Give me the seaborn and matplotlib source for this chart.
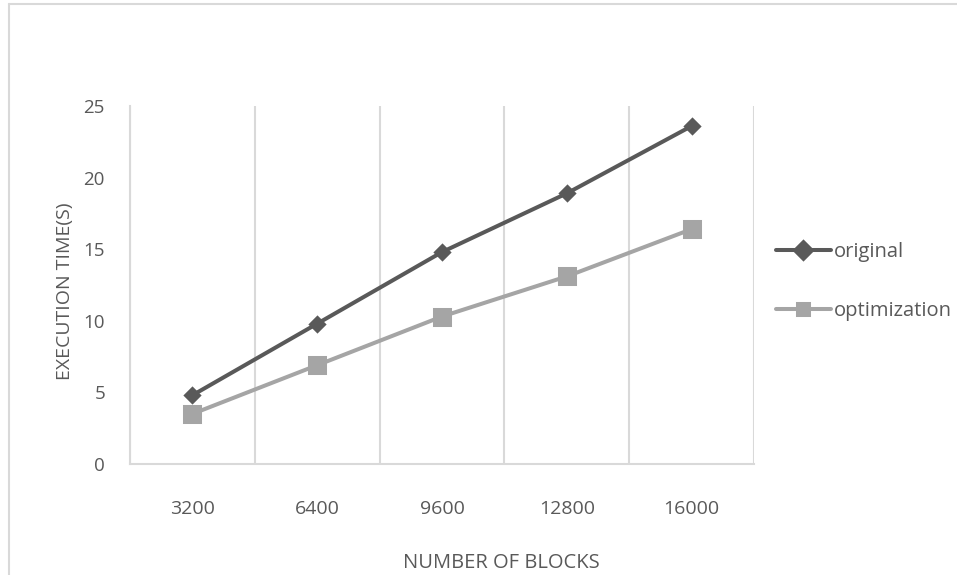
import matplotlib
matplotlib.use("Agg")
import matplotlib.pyplot as plt
from matplotlib.lines import Line2D
import numpy as np
import pandas as pd
import seaborn as sns

# Execution time (seconds) per number of blocks
blocks = ["3200", "6400", "9600", "12800", "16000"]
original = [4.8, 9.8, 14.8, 18.9, 23.6]
optimization = [3.5, 6.9, 10.3, 13.1, 16.4]
series_names = ["original", "optimization"]
y_ticks = [0, 5, 10, 15, 20, 25]

df = pd.DataFrame({
    "blocks": blocks * 2,
    "time": original + optimization,
    "series": [series_names[0]] * len(blocks) + [series_names[1]] * len(blocks),
})

sns.set_theme(style="white")
plt.rcParams["font.family"] = ["Open Sans", "DejaVu Sans"]

text_color = "#595959"
grid_color = "#d9d9d9"
palette = {"original": "#595959", "optimization": "#a5a5a5"}

W, H = 957, 575
fig = plt.figure(figsize=(W / 100, H / 100), dpi=100)
ax = fig.add_axes([130 / W, 1 - 464 / H, (754 - 130) / W, (464 - 106) / H])

sns.pointplot(
    data=df, x="blocks", y="time", hue="series", order=blocks,
    hue_order=series_names, palette=palette, markers=["D", "s"],
    linestyles=["-", "-"], markersize=9, linewidth=2.9, ax=ax,
)
# square markers a bit larger than the diamonds
for line in ax.lines:
    if line.get_marker() == "s":
        line.set_markersize(11.5)
    elif line.get_marker() == "D":
        line.set_markersize(7)

ax.set_xlim(-0.5, len(blocks) - 0.5)
ax.set_ylim(0, 25)
ax.set_yticks(y_ticks)

# vertical gridlines on category boundaries
ax.set_xticks(np.arange(-0.5, len(blocks), 1.0), minor=True)
ax.grid(True, axis="x", which="minor", color=grid_color, linewidth=1.5)
ax.grid(False, axis="y")
ax.grid(False, axis="x", which="major")
ax.tick_params(axis="both", which="both", length=0)
ax.tick_params(axis="x", which="major", pad=26, labelsize=14, labelcolor=text_color)
ax.tick_params(axis="y", pad=18, labelsize=13.5, labelcolor=text_color)

for side in ["top", "right"]:
    ax.spines[side].set_visible(False)
for side in ["left", "bottom"]:
    ax.spines[side].set_color(grid_color)
    ax.spines[side].set_linewidth(1.5)

ax.set_xlabel("NUMBER OF BLOCKS", fontsize=14.5, color=text_color)
ax.set_ylabel("EXECUTION TIME(S)", fontsize=14, color=text_color)
ax.xaxis.set_label_coords((501 - 130) / (754 - 130), -(553 - 464) / (464 - 106))
ax.yaxis.set_label_coords(-(130 - 74) / (754 - 130), (464 - 291) / (464 - 106))

# legend on the right
old = ax.get_legend()
handles = old.legend_handles
labels = [t.get_text() for t in old.texts]
old.remove()
leg = fig.legend(
    handles, labels, loc="upper left", bbox_to_anchor=(758 / W, 1 - 224 / H),
    frameon=False, fontsize=14.5, handlelength=2.7, handletextpad=0.15,
    labelspacing=1.95, labelcolor=text_color,
)

# chart area border
fig.add_artist(Line2D([9 / W, 9 / W], [0, 1 - 4 / H], color=grid_color, linewidth=1.5,
                      transform=fig.transFigure))
fig.add_artist(Line2D([9 / W, 1], [1 - 4 / H, 1 - 4 / H], color=grid_color, linewidth=1.5,
                      transform=fig.transFigure))

fig.savefig("out.png", dpi=100)
